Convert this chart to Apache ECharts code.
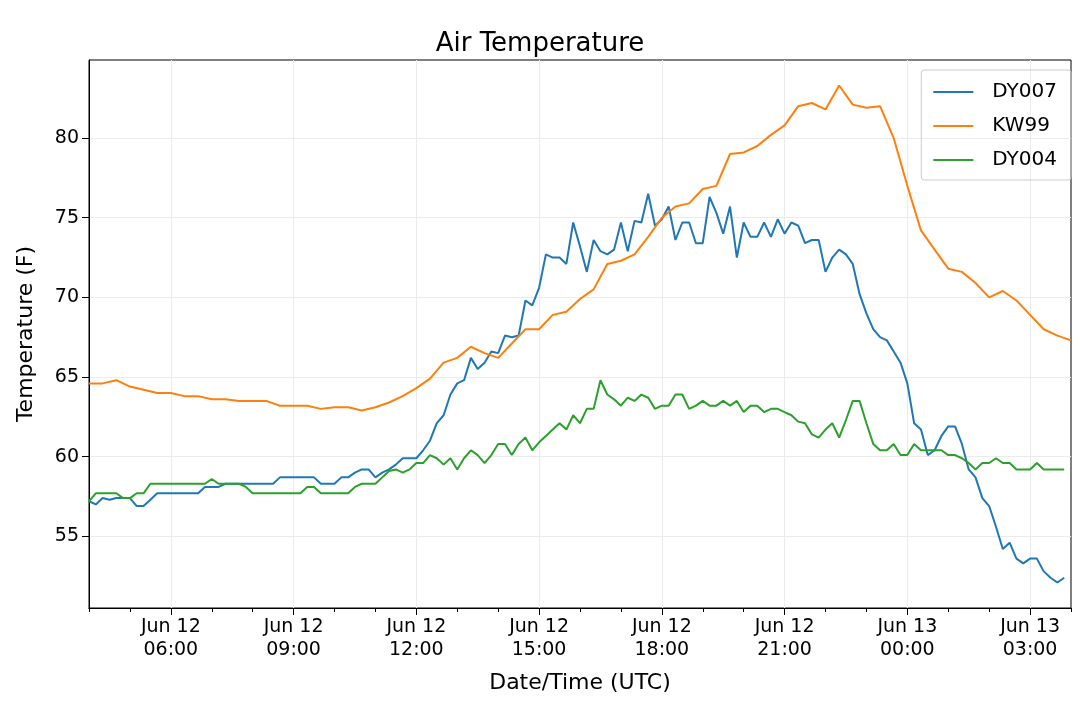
<!DOCTYPE html>
<html>
<head>
<meta charset="utf-8">
<script src="https://cdn.jsdelivr.net/npm/echarts@6/dist/echarts.min.js"></script>
<style>html,body{margin:0;background:#fff}#chart{width:1080px;height:713px}</style>
</head>
<body>
<div id="chart"></div>
<script>
// hours since Jun 12 00:00 UTC
var startHour = 4;
var dy007 = [57.2, 57.0, 57.4, 57.3, 57.4, 57.4, 57.4,
  56.9, 56.9, 57.3, 57.7, 57.7, 57.7,
  57.7, 57.7, 57.7, 57.7, 58.1, 58.1,
  58.1, 58.3, 58.3, 58.3, 58.3, 58.3,
  58.3, 58.3, 58.3, 58.7, 58.7, 58.7,
  58.7, 58.7, 58.7, 58.3, 58.3, 58.3,
  58.7, 58.7, 59.0, 59.2, 59.2, 58.7,
  59.0, 59.2, 59.5, 59.9, 59.9, 59.9,
  60.4, 61.0, 62.1, 62.6, 63.9, 64.6,
  64.8, 66.2, 65.5, 65.9, 66.6, 66.5,
  67.6, 67.5, 67.6, 69.8, 69.5, 70.6,
  72.7, 72.5, 72.5, 72.1, 74.7, 73.2,
  71.6, 73.6, 72.9, 72.7, 73.0, 74.7,
  72.9, 74.8, 74.7, 76.5, 74.5, 74.9,
  75.7, 73.6, 74.7, 74.7, 73.4, 73.4,
  76.3, 75.3, 74.0, 75.7, 72.5, 74.7,
  73.8, 73.8, 74.7, 73.8, 74.9, 74.0,
  74.7, 74.5, 73.4, 73.6, 73.6, 71.6,
  72.5, 73.0, 72.7, 72.1, 70.2, 69.0,
  68.0, 67.5, 67.3, 66.6, 65.9, 64.6,
  62.1, 61.7, 60.1, 60.4, 61.3, 61.9,
  61.9, 60.8, 59.2, 58.7, 57.4, 56.9,
  55.6, 54.2, 54.6, 53.6, 53.3, 53.6,
  53.6, 52.8, 52.4, 52.1, 52.4];
var dy004 = [57.2, 57.7, 57.7, 57.7, 57.7, 57.4, 57.4,
  57.7, 57.7, 58.3, 58.3, 58.3, 58.3,
  58.3, 58.3, 58.3, 58.3, 58.3, 58.6,
  58.3, 58.3, 58.3, 58.3, 58.1, 57.7,
  57.7, 57.7, 57.7, 57.7, 57.7, 57.7,
  57.7, 58.1, 58.1, 57.7, 57.7, 57.7,
  57.7, 57.7, 58.1, 58.3, 58.3, 58.3,
  58.7, 59.1, 59.2, 59.0, 59.2, 59.6,
  59.6, 60.1, 59.9, 59.5, 59.9, 59.2,
  59.9, 60.4, 60.1, 59.6, 60.1, 60.8,
  60.8, 60.1, 60.8, 61.2, 60.4, 60.9,
  61.3, 61.7, 62.1, 61.7, 62.6, 62.1,
  63.0, 63.0, 64.8, 63.9, 63.6, 63.2,
  63.7, 63.5, 63.9, 63.7, 63.0, 63.2,
  63.2, 63.9, 63.9, 63.0, 63.2, 63.5,
  63.2, 63.2, 63.5, 63.2, 63.5, 62.8,
  63.2, 63.2, 62.8, 63.0, 63.0, 62.8,
  62.6, 62.2, 62.1, 61.4, 61.2, 61.7,
  62.1, 61.2, 62.3, 63.5, 63.5, 62.1,
  60.8, 60.4, 60.4, 60.8, 60.1, 60.1,
  60.8, 60.4, 60.4, 60.4, 60.4, 60.1,
  60.1, 59.9, 59.6, 59.2, 59.6, 59.6,
  59.9, 59.6, 59.6, 59.2, 59.2, 59.2,
  59.6, 59.2, 59.2, 59.2, 59.2];
var kw99 = [64.6, 64.6, 64.8, 64.4, 64.2, 64.0, 64.0, 63.8, 63.8, 63.6, 63.6, 63.5,
  63.5, 63.5, 63.2, 63.2, 63.2, 63.0, 63.1, 63.1, 62.9, 63.1, 63.4, 63.8,
  64.3, 64.9, 65.9, 66.2, 66.9, 66.5, 66.2, 67.1, 68.0, 68.0, 68.9, 69.1,
  69.9, 70.5, 72.1, 72.3, 72.7, 73.8, 75.0, 75.7, 75.9, 76.8, 77.0, 79.0,
  79.1, 79.5, 80.2, 80.8, 82.0, 82.2, 81.8, 83.3, 82.1, 81.9, 82.0, 80.0,
  77.0, 74.2, 73.0, 71.8, 71.6, 70.9, 70.0, 70.4, 69.8, 68.9, 68.0, 67.6, 67.3];
var majorHours = [6, 9, 12, 15, 18, 21, 24, 27];
var yTicks = [55, 60, 65, 70, 75, 80];

function toPairs(vals, stepMin) {
  return vals.map(function (v, i) { return [startHour + i * stepMin / 60, v]; });
}
function fmtHour(v) {
  var h = Math.round(v) % 24;
  return (v >= 24 ? 'Jun 13' : 'Jun 12') + '\n' + (h < 10 ? '0' : '') + h + ':00';
}

var chart = echarts.init(document.getElementById('chart'));
var font = 'DejaVu Sans';
var xCommon = {
  type: 'value', min: 4, max: 28, position: 'bottom',
  axisLine: { show: true, lineStyle: { color: '#000', width: 1 } }
};
chart.setOption({
  animation: false,
  textStyle: { fontFamily: font },
  title: { text: 'Air Temperature', left: 'center', top: 26,
    textStyle: { fontFamily: font, fontSize: 26, fontWeight: 'normal', color: '#000' } },
  legend: {
    right: 9, top: 70, orient: 'vertical', itemGap: 14, itemWidth: 40, itemHeight: 2,
    icon: 'rect', padding: [12, 14, 10, 12],
    borderColor: '#ccc', borderWidth: 1, borderRadius: 3,
    textStyle: { fontSize: 20, color: '#000', fontFamily: font, padding: [0, 0, 0, 14] },
    data: ['DY007', 'KW99', 'DY004']
  },
  grid: { left: 89, right: 9, top: 60, bottom: 105, show: true, borderColor: '#000', borderWidth: 1 },
  xAxis: [
    Object.assign({}, xCommon, {
      interval: 1,
      axisTick: { show: true, length: 4, inside: false, lineStyle: { color: '#000' } },
      axisLabel: { show: false }, splitLine: { show: false }
    }),
    Object.assign({}, xCommon, {
      name: 'Date/Time (UTC)', nameLocation: 'middle', nameGap: 64,
      nameTextStyle: { fontSize: 22, color: '#000', fontFamily: font },
      axisTick: { show: true, length: 7, customValues: majorHours, lineStyle: { color: '#000' } },
      axisLabel: { customValues: majorHours, formatter: fmtHour, fontSize: 19, color: '#000',
        lineHeight: 23, margin: 8, fontFamily: font },
      splitLine: { show: true, lineStyle: { color: '#ebebeb', width: 1 } }
    })
  ],
  yAxis: {
    type: 'value', min: 50.5, max: 84.9,
    name: 'Temperature (F)', nameLocation: 'middle', nameGap: 52,
    nameTextStyle: { fontSize: 22, color: '#000', fontFamily: font },
    axisLine: { show: true, lineStyle: { color: '#000' } },
    axisTick: { show: true, length: 7, customValues: yTicks, lineStyle: { color: '#000' } },
    axisLabel: { customValues: yTicks, fontSize: 19, color: '#000', margin: 10, fontFamily: font },
    splitLine: { show: true, lineStyle: { color: '#ebebeb', width: 1 } }
  },
  series: [
    { name: 'DY007', type: 'line', xAxisIndex: 1, data: toPairs(dy007, 10), showSymbol: false,
      color: '#1f77b4', lineStyle: { width: 2 } },
    { name: 'KW99', type: 'line', xAxisIndex: 1, data: toPairs(kw99, 20), showSymbol: false,
      color: '#ff7f0e', lineStyle: { width: 2 } },
    { name: 'DY004', type: 'line', xAxisIndex: 1, data: toPairs(dy004, 10), showSymbol: false,
      color: '#2ca02c', lineStyle: { width: 2 } }
  ]
});
</script>
</body>
</html>
